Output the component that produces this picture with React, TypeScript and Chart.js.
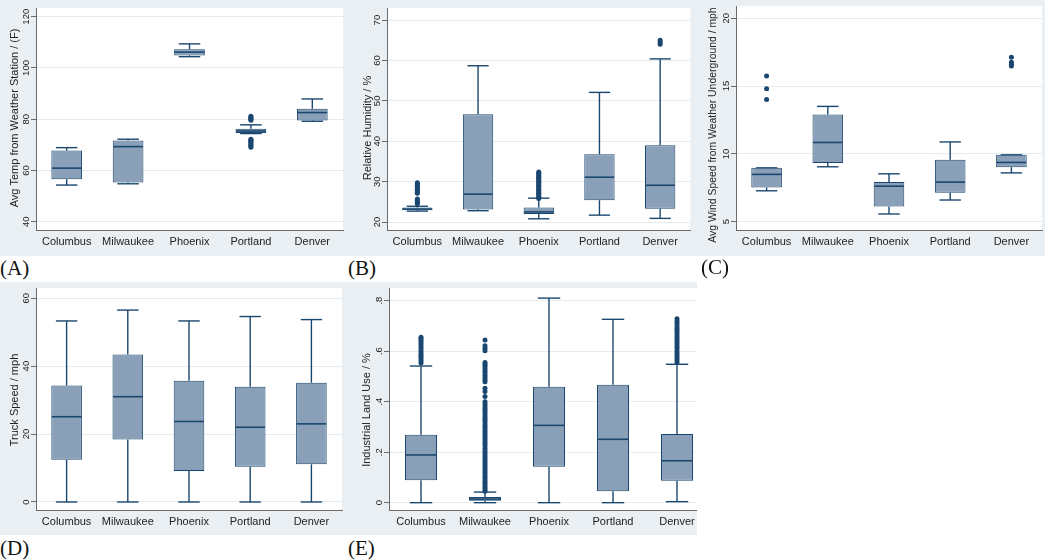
import React, { useEffect, useRef } from "react";
import { Chart, registerables } from "chart.js";

Chart.register(...registerables);

const categories = ["Columbus", "Milwaukee", "Phoenix", "Portland", "Denver"];

// (A) Avg Temp from Weather Station / (F)
const tempMin = [54.3, 54.8, 104.4, 74.4, 79.2];
const tempQ1 = [56.6, 55.3, 104.9, 74.6, 79.5];
const tempMed = [60.9, 69.3, 106.2, 75.4, 82.6];
const tempQ3 = [67.8, 71.7, 107.3, 76.3, 84.1];
const tempMax = [68.9, 72.2, 109.4, 77.8, 87.9];
const tempOutliers = [[], [], [], [81.2, 80.8, 80.4, 80.0, 79.6, 72.2, 71.8, 71.4, 71.0, 70.4, 69.9, 69.5, 69.1], []];

// (B) Relative Humidity / %
const humMin = [22.7, 22.8, 20.8, 21.7, 20.9];
const humQ1 = [22.9, 23.1, 22.0, 25.4, 23.3];
const humMed = [23.2, 26.9, 22.5, 31.1, 29.1];
const humQ3 = [23.6, 46.7, 23.6, 36.8, 39.0];
const humMax = [23.9, 58.7, 25.9, 52.1, 60.4];
const humOutliers = [
  [24.5, 24.8, 25.1, 25.4, 25.7, 27.1, 27.4, 27.8, 28.1, 28.4, 28.8, 29.1, 29.4, 29.7],
  [],
  [25.8, 26.1, 26.4, 26.8, 27.1, 27.4, 27.8, 28.1, 28.4, 28.8, 29.1, 29.4, 29.8, 30.1, 30.4, 30.8, 31.1, 31.4, 31.8, 32.1, 32.4],
  [],
  [64.0, 64.5, 65.0],
];

// (C) Avg Wind Speed from Weather Underground / mph
const windMin = [7.28, 9.05, 5.57, 6.6, 8.6];
const windQ1 = [7.53, 9.32, 6.13, 7.13, 9.02];
const windMed = [8.49, 10.84, 7.62, 7.92, 9.37];
const windQ3 = [8.97, 12.9, 7.92, 9.56, 9.93];
const windMax = [8.97, 13.5, 8.53, 10.88, 9.93];
const windOutliers = [[15.74, 14.8, 14.0], [], [], [], [17.13, 16.76, 16.6, 16.47]];

// (D) Truck Speed / mph
const truckMin = [0, 0, 0, 0, 0];
const truckQ1 = [12.4, 18.4, 9.1, 10.4, 11.1];
const truckMed = [25.1, 31.0, 23.7, 22.0, 23.0];
const truckQ3 = [34.3, 43.4, 35.7, 33.9, 35.1];
const truckMax = [53.3, 56.5, 53.3, 54.6, 53.7];
const truckOutliers = [[], [], [], [], []];

// (E) Industrial Land Use / %
const landMin = [0, 0, 0, 0, 0.004];
const landQ1 = [0.089, 0.008, 0.142, 0.045, 0.087];
const landMed = [0.189, 0.014, 0.306, 0.251, 0.166];
const landQ3 = [0.269, 0.022, 0.459, 0.467, 0.272];
const landMax = [0.541, 0.042, 0.81, 0.726, 0.548];
const landOutliers = [
  [0.553, 0.561, 0.569, 0.577, 0.584, 0.592, 0.601, 0.609, 0.617, 0.626, 0.634, 0.642, 0.649, 0.655],
  [0.045, 0.052, 0.06, 0.068, 0.077, 0.085, 0.094, 0.102, 0.111, 0.119, 0.128, 0.137, 0.146, 0.154, 0.163,
    0.171, 0.18, 0.189, 0.198, 0.206, 0.215, 0.224, 0.233, 0.241, 0.25, 0.259, 0.268, 0.277, 0.285, 0.294,
    0.303, 0.312, 0.321, 0.33, 0.338, 0.347, 0.356, 0.365, 0.374, 0.383, 0.391, 0.4, 0.42, 0.44, 0.453,
    0.479, 0.487, 0.496, 0.505, 0.514, 0.522, 0.531, 0.54, 0.548, 0.555, 0.602, 0.611, 0.621, 0.644],
  [],
  [],
  [0.556, 0.565, 0.574, 0.583, 0.592, 0.601, 0.61, 0.619, 0.628, 0.637, 0.646, 0.655, 0.664, 0.673, 0.682,
    0.691, 0.7, 0.709, 0.718, 0.728],
];

const LINE = "#1A476F";
const FILL = "#8A9FB8";
const AXIS = "#6A6A6A";
const GRID = "#E5ECEF";
const PANEL_BG = "#E9EFF2";
const TEXT = "#222222";
const SANS = '"Liberation Sans", Arial, Helvetica, sans-serif';
const SERIF = '"Liberation Serif", "Times New Roman", serif';

type PanelDef = {
  key: string;
  letter: string;
  title: string;
  titleSize: number;
  min: number[];
  q1: number[];
  med: number[];
  q3: number[];
  max: number[];
  outliers: number[][];
  yMin: number;
  yMax: number;
  yStep: number;
  fmt: (v: number) => string;
  box: { left: number; top: number; width: number; height: number; canvasWidth: number };
  area: { left: number; right: number; top: number; bottom: number };
  titleX: number;
  titleY: number;
  labelTop: number;
  labelLeft: number;
};

const plain = (v: number) => String(v);
const stataDec = (v: number) => (Math.abs(v) < 1e-9 ? "0" : String(Math.round(v * 10) / 10).replace(/^0\./, "."));

const panels: PanelDef[] = [
  {
    key: "A", letter: "(A)", title: "Avg Temp from Weather Station / (F)", titleSize: 11,
    min: tempMin, q1: tempQ1, med: tempMed, q3: tempQ3, max: tempMax, outliers: tempOutliers,
    yMin: 36.76, yMax: 123.4, yStep: 20, fmt: plain,
    box: { left: 0, top: 0, width: 347, height: 256, canvasWidth: 347 },
    area: { left: 36, right: 343, top: 8, bottom: 230 },
    titleX: 15, titleY: 118, labelTop: 258, labelLeft: 0,
  },
  {
    key: "B", letter: "(B)", title: "Relative Humidity / %", titleSize: 11,
    min: humMin, q1: humQ1, med: humMed, q3: humQ3, max: humMax, outliers: humOutliers,
    yMin: 18.02, yMax: 73.0, yStep: 10, fmt: plain,
    box: { left: 347, top: 0, width: 346, height: 256, canvasWidth: 346 },
    area: { left: 40, right: 345, top: 8, bottom: 230 },
    titleX: 21, titleY: 128, labelTop: 258, labelLeft: 348,
  },
  {
    key: "C", letter: "(C)", title: "Avg Wind Speed from Weather Underground / mph", titleSize: 10.4,
    min: windMin, q1: windQ1, med: windMed, q3: windQ3, max: windMax, outliers: windOutliers,
    yMin: 4.39, yMax: 20.9, yStep: 5, fmt: plain,
    box: { left: 693, top: 0, width: 352, height: 256, canvasWidth: 352 },
    area: { left: 43, right: 349, top: 6, bottom: 230 },
    titleX: 20, titleY: 125, labelTop: 257, labelLeft: 701,
  },
  {
    key: "D", letter: "(D)", title: "Truck Speed / mph", titleSize: 11,
    min: truckMin, q1: truckQ1, med: truckMed, q3: truckQ3, max: truckMax, outliers: truckOutliers,
    yMin: -2.36, yMax: 63.0, yStep: 20, fmt: plain,
    box: { left: 0, top: 282, width: 347, height: 253, canvasWidth: 347 },
    area: { left: 36, right: 342, top: 6, bottom: 228 },
    titleX: 15, titleY: 118, labelTop: 538, labelLeft: 0,
  },
  {
    key: "E", letter: "(E)", title: "Industrial Land Use / %", titleSize: 11,
    min: landMin, q1: landQ1, med: landMed, q3: landQ3, max: landMax, outliers: landOutliers,
    yMin: -0.029, yMax: 0.85, yStep: 0.2, fmt: stataDec,
    box: { left: 347, top: 282, width: 350, height: 253, canvasWidth: 370 },
    area: { left: 42, right: 362, top: 6, bottom: 228 },
    titleX: 20, titleY: 128, labelTop: 538, labelLeft: 348,
  },
];

function BoxPanel({ def }: { def: PanelDef }) {
  const ref = useRef<HTMLCanvasElement | null>(null);

  useEffect(() => {
    const canvas = ref.current;
    if (!canvas) return;
    const a = def.area;

    const line = (ctx: CanvasRenderingContext2D, x1: number, y1: number, x2: number, y2: number) => {
      ctx.beginPath();
      ctx.moveTo(x1, y1);
      ctx.lineTo(x2, y2);
      ctx.stroke();
    };

    const decor = {
      id: "decor" + def.key,
      beforeDraw(chart: any) {
        const ca = chart.chartArea;
        const ctx = chart.ctx;
        ctx.save();
        ctx.fillStyle = "#ffffff";
        ctx.fillRect(ca.left, ca.top, ca.right - ca.left, ca.bottom - ca.top);
        ctx.restore();
      },
      beforeDatasetsDraw(chart: any) {
        const xs = chart.scales.x;
        const ys = chart.scales.y;
        const ctx = chart.ctx;
        const spacing = xs.getPixelForValue(1) - xs.getPixelForValue(0);
        const capHalf = spacing * 0.5 * 0.35;
        ctx.save();
        ctx.strokeStyle = LINE;
        ctx.lineWidth = 1.4;
        categories.forEach((_, i) => {
          const cx = xs.getPixelForValue(i);
          const pMin = ys.getPixelForValue(def.min[i]);
          const pQ1 = ys.getPixelForValue(def.q1[i]);
          const pQ3 = ys.getPixelForValue(def.q3[i]);
          const pMax = ys.getPixelForValue(def.max[i]);
          line(ctx, cx, pQ3, cx, pMax);
          line(ctx, cx, pQ1, cx, pMin);
          line(ctx, cx - capHalf, pMax, cx + capHalf, pMax);
          line(ctx, cx - capHalf, pMin, cx + capHalf, pMin);
        });
        ctx.restore();
      },
      afterDatasetsDraw(chart: any) {
        const xs = chart.scales.x;
        const ys = chart.scales.y;
        const ctx = chart.ctx;
        const spacing = xs.getPixelForValue(1) - xs.getPixelForValue(0);
        const half = spacing * 0.5 * 0.5;
        ctx.save();
        ctx.strokeStyle = LINE;
        ctx.lineWidth = 1.6;
        categories.forEach((_, i) => {
          const cx = xs.getPixelForValue(i);
          const pMed = ys.getPixelForValue(def.med[i]);
          line(ctx, cx - half + 0.5, pMed, cx + half - 0.5, pMed);
        });
        ctx.restore();
      },
      afterDraw(chart: any) {
        const ys = chart.scales.y;
        const ctx = chart.ctx;
        const ca = chart.chartArea;
        ctx.save();
        ctx.fillStyle = TEXT;
        ctx.font = `9.5px ${SANS}`;
        ctx.textAlign = "center";
        ctx.textBaseline = "alphabetic";
        ys.ticks.forEach((t: any) => {
          const py = ys.getPixelForValue(t.value);
          ctx.save();
          ctx.translate(ca.left - 6.6, py);
          ctx.rotate(-Math.PI / 2);
          ctx.fillText(def.fmt(t.value), 0, 0);
          ctx.restore();
        });
        ctx.font = `${def.titleSize}px ${SANS}`;
        ctx.textBaseline = "middle";
        ctx.translate(def.titleX, def.titleY);
        ctx.rotate(-Math.PI / 2);
        ctx.fillText(def.title, 0, 0);
        ctx.restore();
      },
    };

    const outlierPts: { x: string; y: number }[] = [];
    def.outliers.forEach((vals, i) => vals.forEach((v) => outlierPts.push({ x: categories[i], y: v })));

    const chart = new Chart(canvas, {
      type: "bar",
      data: {
        labels: categories,
        datasets: [
          {
            type: "line",
            data: outlierPts as any,
            showLine: false,
            pointRadius: 2.5,
            pointHoverRadius: 2.5,
            pointBackgroundColor: LINE,
            pointBorderColor: LINE,
            pointBorderWidth: 0,
            order: 1,
          } as any,
          {
            type: "bar",
            data: categories.map((_, i) => [def.q1[i], def.q3[i]]) as any,
            backgroundColor: FILL,
            borderColor: LINE,
            borderWidth: 1,
            borderSkipped: false,
            barPercentage: 0.5,
            categoryPercentage: 1,
            order: 2,
          } as any,
        ],
      },
      options: {
        animation: false,
        responsive: false,
        maintainAspectRatio: false,
        events: [],
        layout: {
          padding: { left: 0, top: a.top, right: def.box.canvasWidth - a.right, bottom: 0 },
        },
        plugins: {
          legend: { display: false },
          tooltip: { enabled: false },
        },
        scales: {
          x: {
            type: "category",
            offset: true,
            grid: { display: false, drawTicks: false },
            border: { display: true, color: AXIS, width: 1 },
            ticks: {
              color: TEXT,
              font: { size: 11, family: SANS },
              padding: 5,
              maxRotation: 0,
              minRotation: 0,
              autoSkip: false,
            },
            afterFit: (s: any) => {
              s.height = def.box.height - a.bottom;
            },
          },
          y: {
            type: "linear",
            min: def.yMin,
            max: def.yMax,
            grid: { color: GRID, tickColor: AXIS, tickLength: 5, drawTicks: true, lineWidth: 1 },
            border: { display: true, color: AXIS, width: 1 },
            ticks: { stepSize: def.yStep, display: false, includeBounds: false },
            afterFit: (s: any) => {
              s.width = a.left;
            },
          },
        },
      } as any,
      plugins: [decor as any],
    });
    return () => chart.destroy();
  }, [def]);

  return (
    <>
      <div
        style={{
          position: "absolute",
          left: def.box.left,
          top: def.box.top,
          width: def.box.width,
          height: def.box.height,
          background: PANEL_BG,
          overflow: "hidden",
        }}
      >
        <canvas
          ref={ref}
          width={def.box.canvasWidth}
          height={def.box.height}
          style={{ display: "block", width: def.box.canvasWidth, height: def.box.height }}
        />
      </div>
      <div
        style={{
          position: "absolute",
          left: def.labelLeft,
          top: def.labelTop,
          fontFamily: SERIF,
          fontSize: 21,
          lineHeight: "21px",
          color: "#111",
        }}
      >
        {def.letter}
      </div>
    </>
  );
}

export default function App() {
  return (
    <div
      style={{
        position: "absolute",
        left: 0,
        top: 0,
        width: 1050,
        height: 560,
        background: "#ffffff",
        overflow: "hidden",
      }}
    >
      {panels.map((p) => (
        <BoxPanel key={p.key} def={p} />
      ))}
    </div>
  );
}
